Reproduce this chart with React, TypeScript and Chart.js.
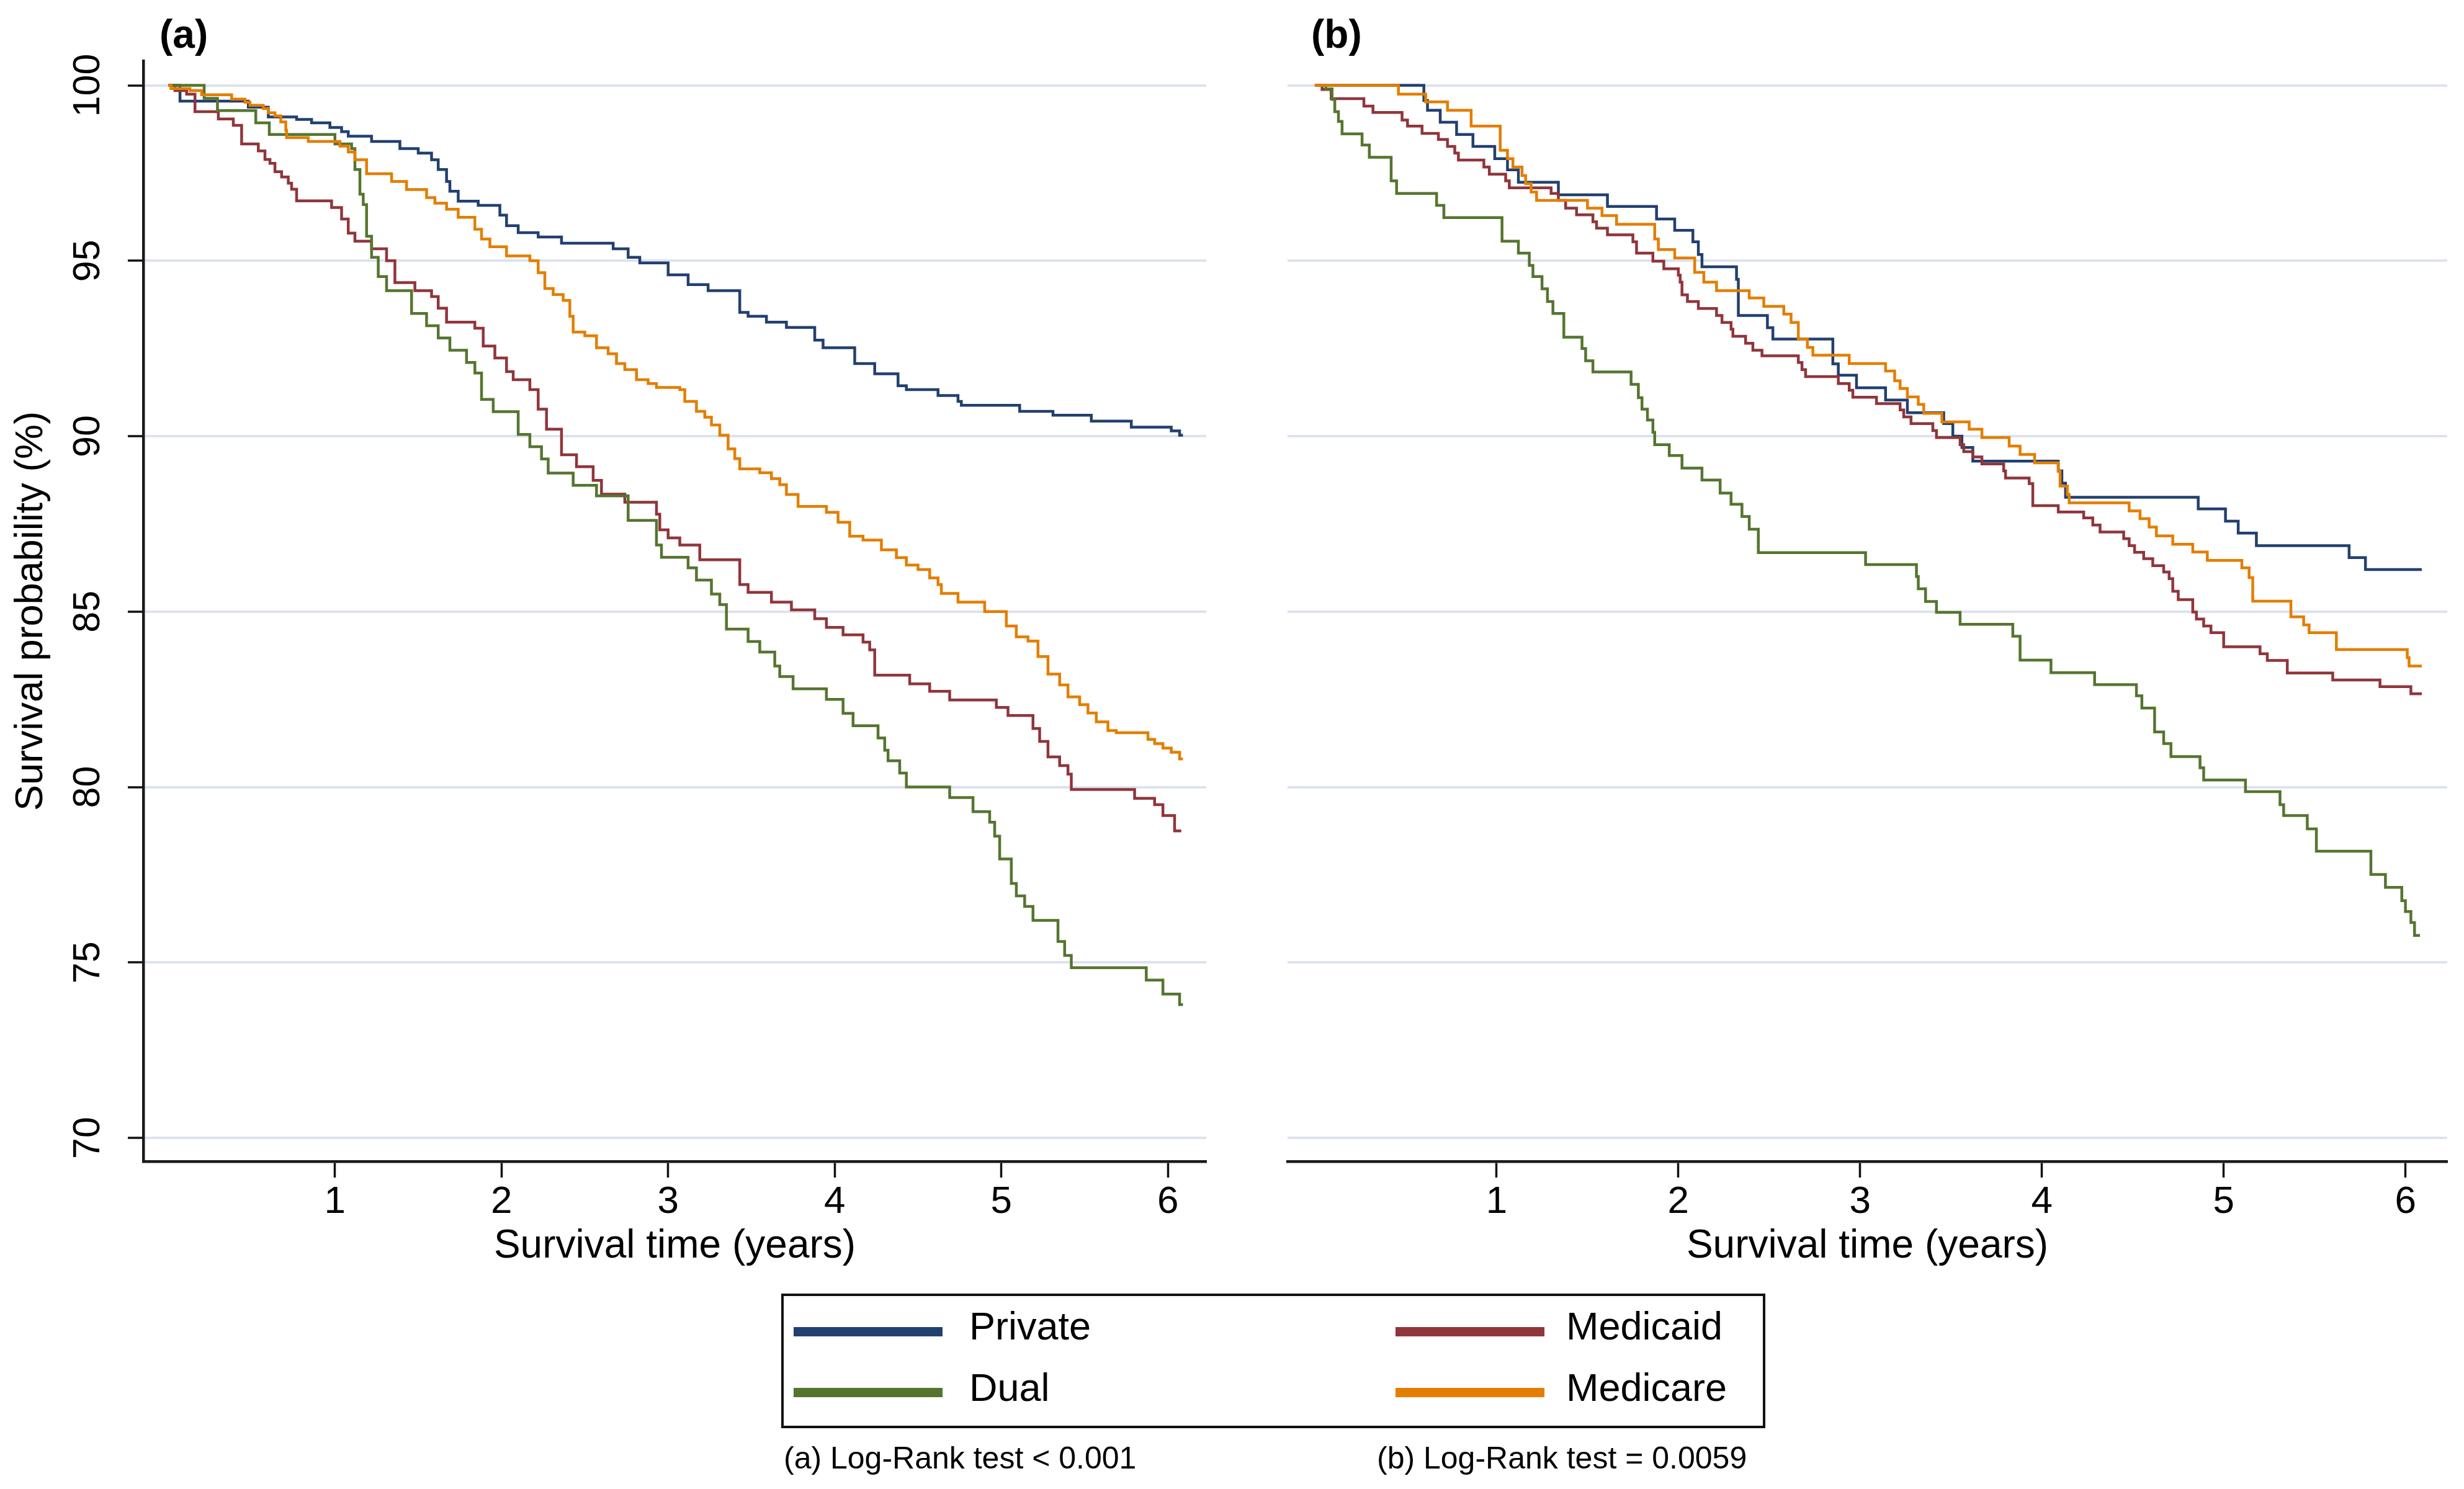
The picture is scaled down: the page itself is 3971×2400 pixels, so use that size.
import React, { useEffect, useRef } from 'react';
import { Chart, registerables } from 'chart.js';

Chart.register(...registerables);

const FONT = '"Liberation Sans", Arial, Helvetica, sans-serif';

// ---------- data ----------
const seriesNames = ['Private', 'Medicaid', 'Dual', 'Medicare'];
const seriesColors = ['#22406f', '#90353b', '#55752f', '#e37e00'];
const xTicks = [1, 2, 3, 4, 5, 6];
const yTicks = [70, 75, 80, 85, 90, 95, 100];
const xRange = [-0.15, 6.23];
const yRange = [69.33, 100.7];
const panelLabels = ['(a)', '(b)'];
const footnotes = ['(a) Log-Rank test < 0.001', '(b) Log-Rank test = 0.0059'];
const xTitle = 'Survival time (years)';
const yTitle = 'Survival probability (%)';

// Kaplan-Meier steps: [time (years), survival (%)] -- panel (a)
const privateA: [number, number][] = [
  [0, 100], [0.07, 99.55], [0.48, 99.38], [0.6, 99.1], [0.77, 99.03], [0.86, 98.93], [0.97, 98.8], [1.04, 98.68],
  [1.08, 98.55], [1.22, 98.4], [1.39, 98.2], [1.5, 98.07], [1.58, 97.88], [1.62, 97.6], [1.67, 97.26], [1.69, 96.98],
  [1.74, 96.7], [1.86, 96.58], [1.99, 96.3], [2.03, 96.0], [2.1, 95.8], [2.22, 95.68], [2.36, 95.5], [2.67, 95.34],
  [2.76, 95.1], [2.83, 94.94], [3.0, 94.6], [3.12, 94.32], [3.24, 94.15], [3.43, 93.53], [3.48, 93.42], [3.59, 93.25],
  [3.71, 93.1], [3.88, 92.74], [3.93, 92.52], [4.12, 92.07], [4.24, 91.78], [4.38, 91.44], [4.43, 91.33], [4.62, 91.16],
  [4.74, 90.99], [4.76, 90.88], [5.11, 90.71], [5.31, 90.6], [5.54, 90.43], [5.78, 90.26], [6.02, 90.15], [6.07, 90.03],
  [6.09, 90.03],
];
const medicaidA: [number, number][] = [
  [0, 100], [0.04, 99.85], [0.11, 99.75], [0.16, 99.25], [0.3, 99.04], [0.39, 98.86], [0.44, 98.33], [0.54, 98.13],
  [0.58, 97.89], [0.61, 97.78], [0.64, 97.54], [0.68, 97.39], [0.72, 97.21], [0.74, 97.04], [0.77, 96.71], [0.98, 96.52],
  [1.04, 96.19], [1.08, 95.79], [1.12, 95.56], [1.22, 95.34], [1.31, 95.0], [1.36, 94.38], [1.48, 94.15], [1.58, 93.98],
  [1.62, 93.65], [1.67, 93.25], [1.84, 93.08], [1.89, 92.57], [1.96, 92.23], [2.03, 91.84], [2.07, 91.61], [2.17, 91.33],
  [2.22, 90.77], [2.27, 90.2], [2.36, 89.47], [2.45, 89.13], [2.55, 88.74], [2.6, 88.35], [2.74, 88.12], [2.93, 87.78],
  [2.95, 87.33], [3.0, 87.1], [3.07, 86.9], [3.19, 86.48], [3.43, 85.77], [3.48, 85.55], [3.62, 85.27], [3.74, 85.05],
  [3.88, 84.8], [3.95, 84.55], [4.05, 84.34], [4.17, 84.13], [4.21, 83.91], [4.24, 83.19], [4.45, 82.94], [4.57, 82.73],
  [4.69, 82.48], [4.97, 82.27], [5.04, 82.04], [5.19, 81.67], [5.23, 81.3], [5.28, 80.86], [5.35, 80.61], [5.4, 80.37],
  [5.42, 79.93], [5.8, 79.68], [5.92, 79.5], [5.97, 79.19], [6.04, 78.75], [6.08, 78.75],
];
const dualA: [number, number][] = [
  [0, 100], [0.215, 99.63], [0.295, 99.28], [0.525, 98.93], [0.606, 98.6], [1.0, 98.33], [1.1, 98.2], [1.12, 97.6],
  [1.15, 96.9], [1.17, 96.6], [1.19, 95.7], [1.22, 95.1], [1.26, 94.55], [1.31, 94.15], [1.46, 93.5], [1.55, 93.15],
  [1.62, 92.8], [1.69, 92.45], [1.79, 92.1], [1.84, 91.8], [1.88, 91.05], [1.95, 90.7], [2.1, 90.05], [2.17, 89.7],
  [2.24, 89.35], [2.28, 88.95], [2.43, 88.6], [2.57, 88.3], [2.76, 87.6], [2.93, 86.9], [2.96, 86.55], [3.12, 86.25],
  [3.17, 85.9], [3.26, 85.5], [3.31, 85.2], [3.35, 84.5], [3.48, 84.15], [3.55, 83.85], [3.64, 83.45], [3.67, 83.15],
  [3.75, 82.8], [3.95, 82.5], [4.05, 82.1], [4.11, 81.75], [4.26, 81.4], [4.3, 81.05], [4.32, 80.75], [4.39, 80.4],
  [4.43, 80.0], [4.69, 79.7], [4.83, 79.3], [4.93, 79.0], [4.96, 78.6], [4.99, 77.95], [5.06, 77.25], [5.09, 76.9],
  [5.14, 76.6], [5.19, 76.2], [5.34, 75.6], [5.38, 75.2], [5.42, 74.85], [5.87, 74.5], [5.97, 74.1], [6.07, 73.8],
  [6.09, 73.8],
];
const medicareA: [number, number][] = [
  [0, 100], [0.016, 99.91], [0.13, 99.85], [0.2, 99.73], [0.38, 99.61], [0.46, 99.52], [0.49, 99.43], [0.57, 99.34],
  [0.6, 99.22], [0.64, 99.13], [0.675, 98.96], [0.705, 98.72], [0.71, 98.51], [0.84, 98.4], [1.03, 98.27], [1.08, 98.1],
  [1.12, 97.88], [1.19, 97.48], [1.34, 97.26], [1.43, 97.03], [1.55, 96.8], [1.6, 96.64], [1.67, 96.47], [1.74, 96.24],
  [1.84, 95.9], [1.88, 95.62], [1.93, 95.4], [2.03, 95.14], [2.17, 95.0], [2.22, 94.66], [2.26, 94.21], [2.31, 94.04],
  [2.37, 93.87], [2.41, 93.42], [2.43, 92.97], [2.5, 92.86], [2.57, 92.52], [2.64, 92.35], [2.69, 92.07], [2.74, 91.9],
  [2.81, 91.61], [2.88, 91.5], [2.93, 91.39], [3.07, 91.33], [3.1, 90.99], [3.17, 90.71], [3.22, 90.54], [3.26, 90.32],
  [3.31, 90.03], [3.36, 89.64], [3.4, 89.36], [3.43, 89.07], [3.55, 88.96], [3.62, 88.79], [3.67, 88.62], [3.71, 88.34],
  [3.78, 88.0], [3.95, 87.83], [4.02, 87.55], [4.09, 87.15], [4.17, 87.04], [4.28, 86.76], [4.37, 86.54], [4.43, 86.33],
  [4.5, 86.2], [4.57, 85.96], [4.62, 85.77], [4.64, 85.52], [4.74, 85.27], [4.9, 85.0], [5.03, 84.59], [5.09, 84.28],
  [5.16, 84.16], [5.22, 83.72], [5.28, 83.22], [5.35, 82.91], [5.4, 82.57], [5.47, 82.35], [5.52, 82.11], [5.57, 81.86],
  [5.64, 81.61], [5.69, 81.55], [5.88, 81.36], [5.92, 81.24], [5.97, 81.11], [6.02, 80.99], [6.07, 80.8], [6.09, 80.8],
];

// panel (b)
const privateB: [number, number][] = [
  [0, 100], [0.6, 99.57], [0.62, 99.29], [0.69, 98.95], [0.78, 98.6], [0.87, 98.26], [0.99, 97.91], [1.06, 97.59],
  [1.12, 97.24], [1.34, 96.88], [1.61, 96.55], [1.88, 96.19], [1.98, 95.87], [2.08, 95.54], [2.11, 95.18], [2.13, 94.83],
  [2.32, 94.47], [2.33, 93.44], [2.49, 93.09], [2.52, 92.77], [2.85, 92.06], [2.88, 91.74], [2.98, 91.38], [3.14, 91.03],
  [3.26, 90.67], [3.46, 90.36], [3.51, 90.0], [3.56, 89.68], [3.62, 89.29], [4.09, 89.01], [4.11, 88.66], [4.13, 88.26],
  [4.86, 87.93], [5.01, 87.58], [5.08, 87.24], [5.18, 86.88], [5.69, 86.54], [5.78, 86.2], [6.09, 86.2],
];
const medicaidB: [number, number][] = [
  [0, 100], [0.04, 99.88], [0.09, 99.62], [0.27, 99.41], [0.32, 99.23], [0.48, 99.01], [0.51, 98.84], [0.59, 98.63],
  [0.68, 98.46], [0.73, 98.26], [0.77, 98.07], [0.79, 97.87], [0.93, 97.67], [0.96, 97.47], [1.05, 97.28], [1.07, 97.08],
  [1.3, 96.92], [1.34, 96.72], [1.38, 96.5], [1.44, 96.31], [1.53, 96.11], [1.55, 95.93], [1.61, 95.74], [1.75, 95.54],
  [1.77, 95.22], [1.86, 94.99], [1.92, 94.77], [2.0, 94.59], [2.01, 94.39], [2.02, 94.03], [2.05, 93.84], [2.11, 93.64],
  [2.21, 93.44], [2.24, 93.24], [2.29, 93.05], [2.3, 92.85], [2.37, 92.65], [2.41, 92.45], [2.46, 92.29], [2.66, 92.1],
  [2.68, 91.9], [2.7, 91.7], [2.88, 91.5], [2.94, 91.31], [2.96, 91.11], [3.09, 90.93], [3.22, 90.75], [3.24, 90.55],
  [3.28, 90.36], [3.4, 90.16], [3.42, 89.96], [3.55, 89.76], [3.57, 89.56], [3.62, 89.41], [3.67, 89.21], [3.79, 89.01],
  [3.8, 88.81], [3.93, 88.65], [3.95, 88.02], [4.09, 87.84], [4.23, 87.67], [4.28, 87.47], [4.32, 87.27], [4.45, 87.08],
  [4.48, 86.88], [4.51, 86.69], [4.56, 86.51], [4.61, 86.31], [4.67, 86.13], [4.7, 85.94], [4.72, 85.58], [4.75, 85.34],
  [4.83, 84.99], [4.85, 84.79], [4.89, 84.59], [4.93, 84.4], [5.0, 84.0], [5.2, 83.8], [5.24, 83.61], [5.35, 83.25],
  [5.6, 83.05], [5.86, 82.86], [6.03, 82.66], [6.09, 82.66],
];
const dualB: [number, number][] = [
  [0, 100], [0.06, 99.9], [0.095, 99.6], [0.11, 99.25], [0.13, 98.97], [0.15, 98.62], [0.26, 98.3], [0.3, 97.95],
  [0.42, 97.28], [0.45, 96.92], [0.67, 96.58], [0.71, 96.23], [1.03, 95.56], [1.12, 95.22], [1.18, 94.87], [1.2, 94.55],
  [1.25, 94.2], [1.28, 93.84], [1.31, 93.5], [1.37, 92.82], [1.47, 92.5], [1.49, 92.15], [1.53, 91.83], [1.74, 91.48],
  [1.78, 91.1], [1.8, 90.77], [1.83, 90.46], [1.86, 90.11], [1.87, 89.76], [1.95, 89.45], [2.02, 89.09], [2.13, 88.75],
  [2.23, 88.38], [2.29, 88.06], [2.35, 87.71], [2.39, 87.35], [2.44, 86.68], [3.03, 86.34], [3.31, 86.0], [3.32, 85.65],
  [3.36, 85.29], [3.42, 84.98], [3.55, 84.64], [3.84, 84.3], [3.88, 83.62], [4.05, 83.26], [4.29, 82.92], [4.52, 82.6],
  [4.55, 82.25], [4.62, 81.57], [4.67, 81.24], [4.71, 80.87], [4.87, 80.55], [4.89, 80.2], [5.12, 79.87], [5.31, 79.5],
  [5.33, 79.19], [5.46, 78.81], [5.51, 78.17], [5.81, 77.51], [5.89, 77.14], [5.98, 76.76], [6.0, 76.45], [6.03, 76.14],
  [6.05, 75.77], [6.08, 75.77],
];
const medicareB: [number, number][] = [
  [0, 100], [0.46, 99.75], [0.61, 99.53], [0.73, 99.29], [0.86, 98.84], [1.02, 98.15], [1.06, 97.91], [1.09, 97.67],
  [1.14, 97.43], [1.16, 97.2], [1.19, 96.96], [1.22, 96.72], [1.5, 96.5], [1.58, 96.29], [1.66, 96.04], [1.87, 95.62],
  [1.89, 95.32], [1.98, 95.08], [2.09, 94.67], [2.14, 94.39], [2.21, 94.15], [2.39, 93.94], [2.47, 93.7], [2.58, 93.48],
  [2.62, 93.24], [2.66, 92.77], [2.71, 92.53], [2.74, 92.31], [2.94, 92.07], [3.14, 91.86], [3.19, 91.58], [3.22, 91.36],
  [3.26, 91.12], [3.32, 90.91], [3.35, 90.65], [3.45, 90.41], [3.6, 90.2], [3.67, 89.96], [3.82, 89.72], [3.88, 89.48],
  [3.96, 89.24], [4.09, 89.0], [4.1, 88.58], [4.14, 88.34], [4.15, 88.1], [4.48, 87.87], [4.54, 87.65], [4.59, 87.41],
  [4.63, 87.16], [4.72, 86.92], [4.83, 86.7], [4.91, 86.46], [5.1, 86.25], [5.14, 85.97], [5.16, 85.3], [5.37, 84.85],
  [5.44, 84.62], [5.47, 84.4], [5.62, 83.92], [6.01, 83.69], [6.02, 83.45], [6.09, 83.45],
];

const panelA = [privateA, medicaidA, dualA, medicareA];
const panelB = [privateB, medicaidB, dualB, medicareB];

// ---------- layout ----------
const CANVAS_H = 2060;
const PLOT_TOP = 98;
const PLOT_BOTTOM = 1872;

type PanelProps = {
  series: [number, number][][];
  left: number;
  width: number;
  yAxisWidth: number;
  padRight: number;
  showYAxis: boolean;
};

function KMPanel({ series, left, width, yAxisWidth, padRight, showYAxis }: PanelProps) {
  const ref = useRef<HTMLCanvasElement | null>(null);
  useEffect(() => {
    if (!ref.current) return;
    const chart = new Chart(ref.current, {
      type: 'line',
      data: {
        datasets: series.map((pts, i) => ({
          label: seriesNames[i],
          data: pts.map(([x, y]) => ({ x, y })),
          borderColor: seriesColors[i],
          backgroundColor: seriesColors[i],
          borderWidth: 4.5,
          pointRadius: 0,
          pointHoverRadius: 0,
          stepped: 'before' as const,
          fill: false,
          tension: 0,
          order: 4 - i,
          borderCapStyle: 'butt' as const,
          borderJoinStyle: 'miter' as const,
        })),
      },
      options: {
        responsive: false,
        animation: false,
        devicePixelRatio: 1,
        events: [],
        layout: { padding: { top: PLOT_TOP, right: padRight, left: 0, bottom: 0 } },
        plugins: { legend: { display: false }, tooltip: { enabled: false }, title: { display: false } },
        scales: {
          x: {
            type: 'linear',
            min: xRange[0],
            max: xRange[1],
            afterBuildTicks: (s: any) => {
              s.ticks = xTicks.map((v) => ({ value: v }));
            },
            afterFit: (s: any) => {
              s.height = CANVAS_H - PLOT_BOTTOM;
            },
            grid: {
              drawOnChartArea: false,
              drawTicks: true,
              tickLength: 26,
              tickColor: '#111',
              tickWidth: 3.5,
            },
            border: { display: true, color: '#1a1a1a', width: 4.5 },
            ticks: {
              font: { family: FONT, size: 62 },
              color: '#000',
              padding: 3,
              minRotation: 0,
              maxRotation: 0,
            },
            title: {
              display: true,
              text: xTitle,
              font: { family: FONT, size: 64 },
              color: '#000',
              padding: { top: 0, bottom: 12 },
            },
          },
          y: {
            type: 'linear',
            min: yRange[0],
            max: yRange[1],
            afterBuildTicks: (s: any) => {
              s.ticks = yTicks.map((v) => ({ value: v }));
            },
            afterFit: (s: any) => {
              s.width = yAxisWidth;
            },
            grid: {
              color: '#dde2ee',
              lineWidth: 4,
              drawTicks: showYAxis,
              tickLength: 25,
              tickColor: '#111',
              tickWidth: 3.5,
            },
            border: { display: showYAxis, color: '#1a1a1a', width: 4.5 },
            ticks: {
              display: showYAxis,
              font: { family: FONT, size: 61 },
              color: '#000',
              minRotation: 90,
              maxRotation: 90,
              crossAlign: 'center',
              padding: 12,
            },
            title: {
              display: showYAxis,
              text: yTitle,
              font: { family: FONT, size: 63 },
              color: '#000',
              padding: { top: 13, bottom: 0 },
            },
          },
        },
      },
    } as any);
    return () => chart.destroy();
  }, []);
  return (
    <canvas
      ref={ref}
      width={width}
      height={CANVAS_H}
      style={{ position: 'absolute', left, top: 0, width, height: CANVAS_H }}
    />
  );
}

const textBase: React.CSSProperties = {
  position: 'absolute',
  fontFamily: FONT,
  color: '#000',
  whiteSpace: 'nowrap',
  lineHeight: 1,
};

export default function App() {
  useEffect(() => {
    document.body.style.margin = '0';
    document.body.style.overflow = 'hidden';
  }, []);

  const legendCols = [
    { lineLeft: 20, textLeft: 303 },
    { lineLeft: 990, textLeft: 1265 },
  ];
  const legendRows = [{ lineY: 61, textY: 51.5 }, { lineY: 159, textY: 150.5 }];
  // legend order: row-wise, two columns
  const legendItems = [0, 1, 2, 3].map((i) => ({
    name: seriesNames[i],
    color: seriesColors[i],
    col: legendCols[i % 2],
    row: legendRows[Math.floor(i / 2)],
  }));

  return (
    <div
      style={{
        position: 'absolute',
        left: 0,
        top: 0,
        width: 3971,
        height: 2400,
        background: '#fff',
        overflow: 'hidden',
      }}
    >
      <KMPanel series={panelA} left={0} width={1990} yAxisWidth={231} padRight={46} showYAxis={true} />
      <KMPanel series={panelB} left={1990} width={1981} yAxisWidth={85} padRight={27} showYAxis={false} />

      <div style={{ ...textBase, left: 257, top: 23, fontSize: 64, fontWeight: 'bold' }}>{panelLabels[0]}</div>
      <div style={{ ...textBase, left: 2113, top: 23, fontSize: 64, fontWeight: 'bold' }}>{panelLabels[1]}</div>

      <div
        style={{
          position: 'absolute',
          left: 1259,
          top: 2085,
          width: 1586,
          height: 217,
          boxSizing: 'border-box',
          border: '4px solid #111',
          background: '#fff',
        }}
      >
        {legendItems.map((it) => (
          <React.Fragment key={it.name}>
            <div
              style={{
                position: 'absolute',
                left: it.col.lineLeft - 4,
                top: it.row.lineY - 4 - 7.5,
                width: 240,
                height: 15,
                background: it.color,
              }}
            />
            <div
              style={{
                ...textBase,
                left: it.col.textLeft - 4,
                top: it.row.textY - 4 - 31,
                fontSize: 63,
              }}
            >
              {it.name}
            </div>
          </React.Fragment>
        ))}
      </div>

      <div style={{ ...textBase, left: 1263, top: 2325, fontSize: 50 }}>{footnotes[0]}</div>
      <div style={{ ...textBase, left: 2219, top: 2325, fontSize: 50 }}>{footnotes[1]}</div>
    </div>
  );
}
